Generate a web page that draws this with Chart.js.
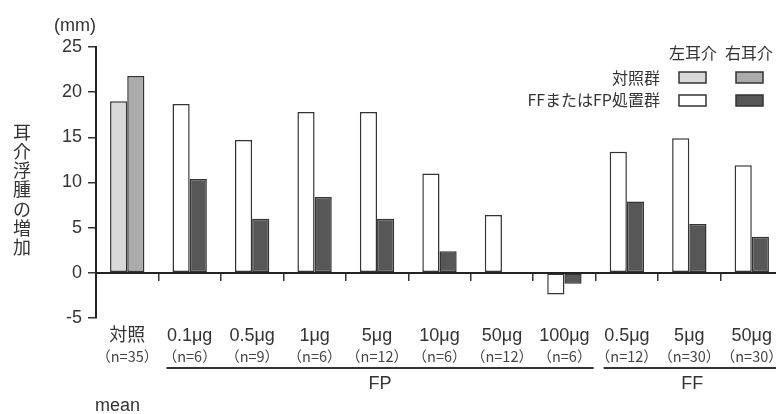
<!DOCTYPE html>
<html>
<head>
<meta charset="utf-8">
<script src="https://cdn.jsdelivr.net/npm/chart.js@4/dist/chart.umd.min.js"></script>
<style>
  html, body { margin: 0; padding: 0; background: #fff; overflow: hidden; }
  #wrap { width: 783px; height: 414px; }
</style>
</head>
<body>
<div id="wrap"><canvas id="earChart" width="783" height="414"></canvas></div>
<script>
// data (mm)
const categories = ['対照', '0.1μg', '0.5μg', '1μg', '5μg', '10μg', '50μg', '100μg', '0.5μg', '5μg', '50μg'];
const nLabels = ['（n=35）', '（n=6）', '（n=9）', '（n=6）', '（n=12）', '（n=6）', '（n=12）', '（n=6）', '（n=12）', '（n=30）', '（n=30）'];
const leftEar = [19.0, 18.7, 14.7, 17.8, 17.8, 11.0, 6.4, -2.4, 13.4, 14.9, 11.9];
const rightEar = [21.8, 10.4, 6.0, 8.4, 6.0, 2.4, null, -1.2, 7.9, 5.4, 4.0];
const groupNames = ['FP', 'FF'];
const groupFrom = [1, 8];
const groupTo = [7, 10];
const yMin = -5, yMax = 25, yStep = 5;

const FONT = '"Liberation Sans", "Noto Sans CJK JP", sans-serif';
const JP = '"Noto Sans CJK JP", sans-serif';
const INK = '#333';

// first category is the control group, the rest are treated groups
const leftColors = categories.map((c, i) => i === 0 ? '#d9d9d9' : '#ffffff');
const rightColors = categories.map((c, i) => i === 0 ? '#ababab' : '#575757');

const extraText = {
    id: 'extraText',
    afterDraw(chart) {
        const ctx = chart.ctx;
        const x = chart.scales.x;
        const half = (x.getPixelForValue(1) - x.getPixelForValue(0)) / 2;
        ctx.save();
        ctx.fillStyle = INK;
        ctx.strokeStyle = INK;

        // unit
        ctx.textAlign = 'center';
        ctx.textBaseline = 'middle';
        ctx.font = '18px ' + FONT;
        ctx.fillText('(mm)', 75, 26);

        // vertical y title
        ctx.font = '18px ' + JP;
        Array.from('耳介浮腫の増加').forEach((ch, i) => {
            ctx.fillText(ch, 22, 132 + i * 19.2);
        });

        // category labels
        categories.forEach((c, i) => {
            const px = x.getPixelForValue(i);
            ctx.font = '18px ' + FONT;
            ctx.fillText(c, px, 336);
            ctx.font = '14.5px ' + JP;
            ctx.fillStyle = '#444';
            ctx.fillText(nLabels[i], px, 356);
            ctx.fillStyle = INK;
        });

        // group brackets
        ctx.lineWidth = 2;
        groupNames.forEach((g, k) => {
            const a = x.getPixelForValue(groupFrom[k]) - half + 8;
            const b = x.getPixelForValue(groupTo[k]) + half - 2;
            ctx.beginPath();
            ctx.moveTo(a, 368);
            ctx.lineTo(b, 368);
            ctx.stroke();
            ctx.font = '18px ' + FONT;
            ctx.fillText(g, (a + b) / 2, 384);
        });

        ctx.textAlign = 'left';
        ctx.font = '18px ' + FONT;
        ctx.fillText('mean', 95, 406);

        // legend matrix
        ctx.textAlign = 'center';
        ctx.font = '16px ' + JP;
        ctx.fillText('左耳介', 693, 53);
        ctx.fillText('右耳介', 749, 53);
        ctx.textAlign = 'right';
        ctx.fillText('対照群', 660, 78);
        ctx.fillText('FFまたはFP処置群', 660, 100);
        const boxes = [
            [679, 72, leftColors[0]], [736, 72, rightColors[0]],
            [679, 95, leftColors[1]], [736, 95, rightColors[1]]
        ];
        ctx.lineWidth = 1.5;
        boxes.forEach(b => {
            ctx.fillStyle = b[2];
            ctx.fillRect(b[0], b[1], 27, 11);
            ctx.strokeRect(b[0], b[1], 27, 11);
        });
        ctx.restore();
    }
};

new Chart(document.getElementById('earChart').getContext('2d'), {
    type: 'bar',
    data: {
        labels: categories,
        datasets: [{
            label: '左耳介',
            data: leftEar,
            backgroundColor: leftColors,
            borderColor: INK,
            borderWidth: 1.5,
            borderSkipped: false
        }, {
            label: '右耳介',
            data: rightEar,
            backgroundColor: rightColors,
            borderColor: INK,
            borderWidth: 1.5,
            borderSkipped: false
        }]
    },
    options: {
        responsive: false,
        animation: false,
        devicePixelRatio: 1,
        categoryPercentage: 0.55,
        barPercentage: 1.0,
        layout: { padding: { left: 0, right: 0, top: 47, bottom: 96 } },
        plugins: {
            legend: { display: false },
            tooltip: { enabled: false }
        },
        scales: {
            x: {
                position: { y: 0 },
                z: 1,
                offset: true,
                ticks: { display: false },
                grid: {
                    offset: true,
                    drawOnChartArea: false,
                    drawTicks: true,
                    tickLength: 7,
                    color: INK,
                    lineWidth: 1.5
                },
                border: { display: true, color: '#222', width: 2 }
            },
            y: {
                min: yMin,
                max: yMax,
                afterFit(scale) { scale.width = 96; },
                ticks: {
                    stepSize: yStep,
                    padding: 6,
                    color: INK,
                    font: { family: FONT, size: 18 }
                },
                grid: {
                    drawOnChartArea: false,
                    drawTicks: true,
                    tickLength: 8,
                    color: INK,
                    lineWidth: 1.5
                },
                border: { display: true, color: '#222', width: 2 }
            }
        }
    },
    plugins: [extraText]
});
</script>
</body>
</html>
